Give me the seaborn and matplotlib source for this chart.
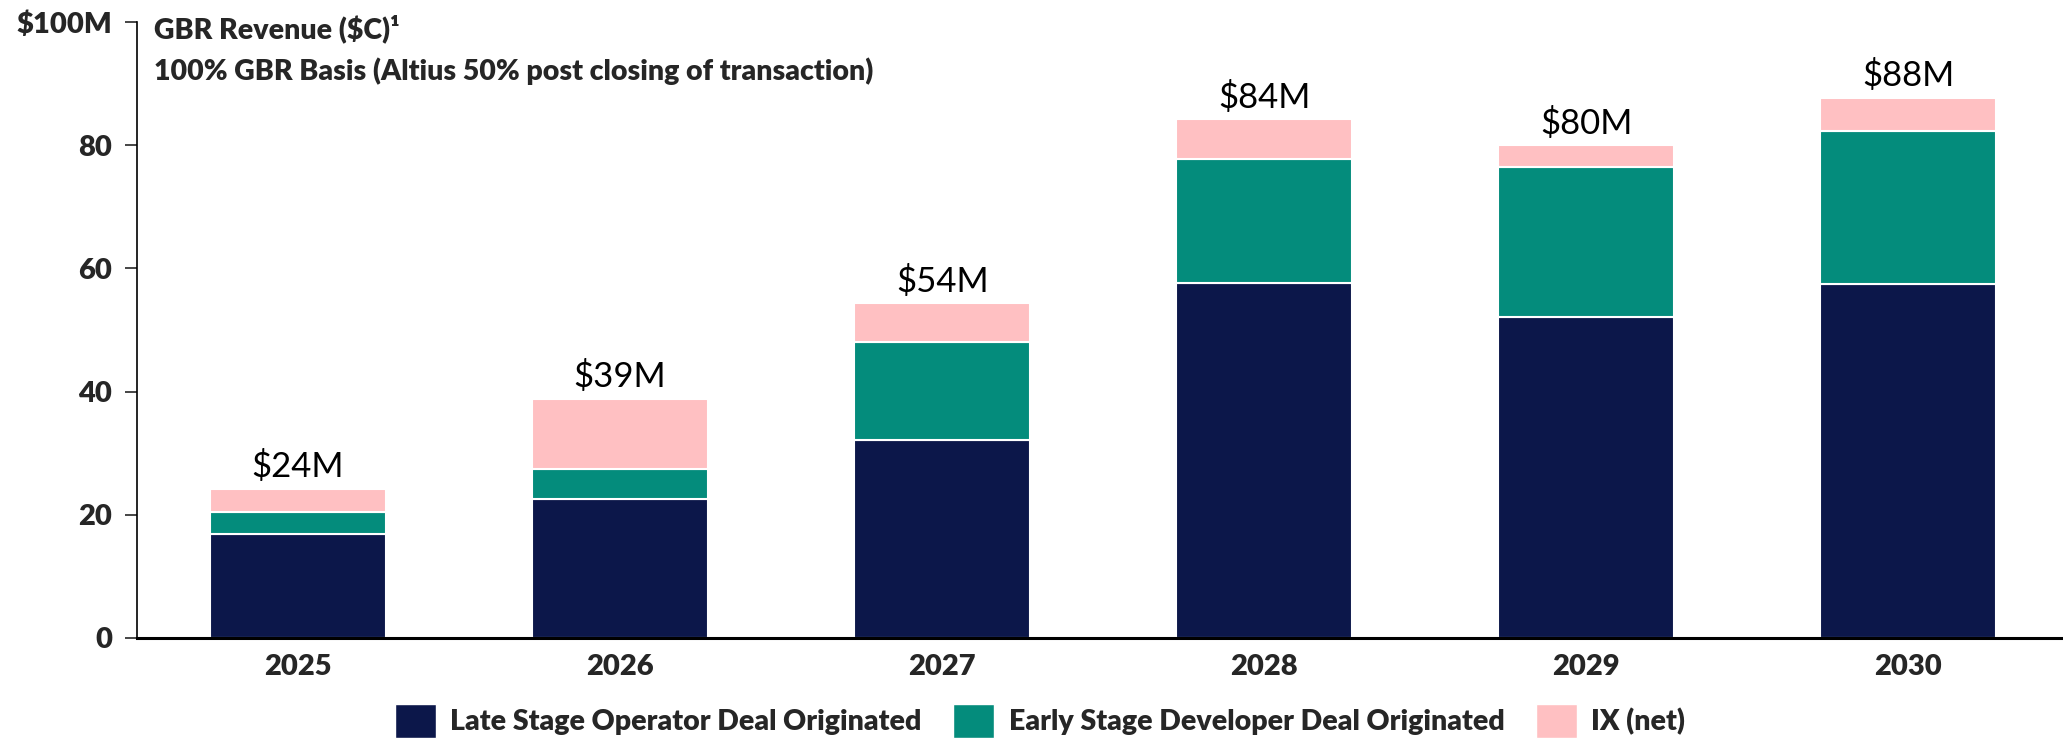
import pandas as pd
import matplotlib.pyplot as plt
import seaborn as sns
from matplotlib.patches import Patch

# данные ($M)
years = ['2025', '2026', '2027', '2028', '2029', '2030']
late_stage = [16.8, 22.6, 32.1, 57.7, 52.1, 57.5]
early_stage = [3.6, 4.8, 16.0, 20.1, 24.4, 24.9]
ix_net = [3.8, 11.4, 6.2, 6.4, 3.5, 5.3]
totals_text = ['$24M', '$39M', '$54M', '$84M', '$80M', '$88M']

series_names = ['Late Stage Operator Deal Originated',
                'Early Stage Developer Deal Originated',
                'IX (net)']
colors = ['#0C174A', '#048C7C', '#FFC0C2']

df = pd.DataFrame({'year': years, 'late': late_stage, 'early': early_stage, 'ix': ix_net})
df['b_early'] = df['late']
df['b_ix'] = df['late'] + df['early']
df['total'] = df['b_ix'] + df['ix']

sns.set_style('white')
plt.rcParams['font.family'] = ['Lato', 'DejaVu Sans']
plt.rcParams['text.parse_math'] = False

fig = plt.figure(figsize=(20.63, 7.39), dpi=100)
ax = fig.add_axes([0.0664, 0.137, 0.9336, 0.833])

bar_w = 0.547
sns.barplot(data=df, x='year', y='late', color=colors[0], width=bar_w,
            saturation=1, edgecolor='white', linewidth=1.5, ax=ax)
sns.barplot(data=df, x='year', y='early', color=colors[1], width=bar_w,
            saturation=1, edgecolor='white', linewidth=1.5, bottom=df['b_early'].values, ax=ax)
sns.barplot(data=df, x='year', y='ix', color=colors[2], width=bar_w,
            saturation=1, edgecolor='white', linewidth=1.5, bottom=df['b_ix'].values, ax=ax)

# подписи итогов над столбцами
for i, (tot, txt) in enumerate(zip(df['total'], totals_text)):
    ax.annotate(txt, (i, tot), xytext=(0, 4), textcoords='offset points',
                ha='center', va='bottom', fontsize=25, color='black')

ax.set_xlim(-0.5, 5.48)
ax.set_ylim(0, 100)
ax.set_yticks([0, 20, 40, 60, 80, 100])
ax.set_yticklabels(['0', '20', '40', '60', '80', '$100M'])
ax.set_xlabel('')
ax.set_ylabel('')
ax.tick_params(axis='y', length=9, width=1.2, direction='out', pad=9, labelsize=21, left=True)
ax.tick_params(axis='x', length=0, pad=12, labelsize=21)
for lab in ax.get_xticklabels() + ax.get_yticklabels():
    lab.set_fontweight('heavy')

sns.despine(ax=ax)
ax.spines['left'].set_linewidth(1.2)
ax.spines['bottom'].set_linewidth(2.2)
ax.spines['left'].set_color('black')
ax.spines['bottom'].set_color('black')

fig.text(154 / 2063, 1 - 29 / 739, 'GBR Revenue ($C)\u00b9', fontsize=20.5, fontweight='heavy', va='center')
fig.text(154 / 2063, 1 - 71 / 739, '100% GBR Basis (Altius 50% post closing of transaction)',
         fontsize=20.5, fontweight='heavy', va='center')

handles = [Patch(facecolor=c, edgecolor='white', label=n) for c, n in zip(colors, series_names)]
fig.legend(handles=handles, loc='center', bbox_to_anchor=(1040 / 2063, 1 - 721 / 739), ncol=3,
           frameon=False, prop={'size': 20.5, 'weight': 'heavy'}, handlelength=1.45, handleheight=1.45,
           handletextpad=0.5, columnspacing=1.1)

plt.savefig('out.png', dpi=100)
